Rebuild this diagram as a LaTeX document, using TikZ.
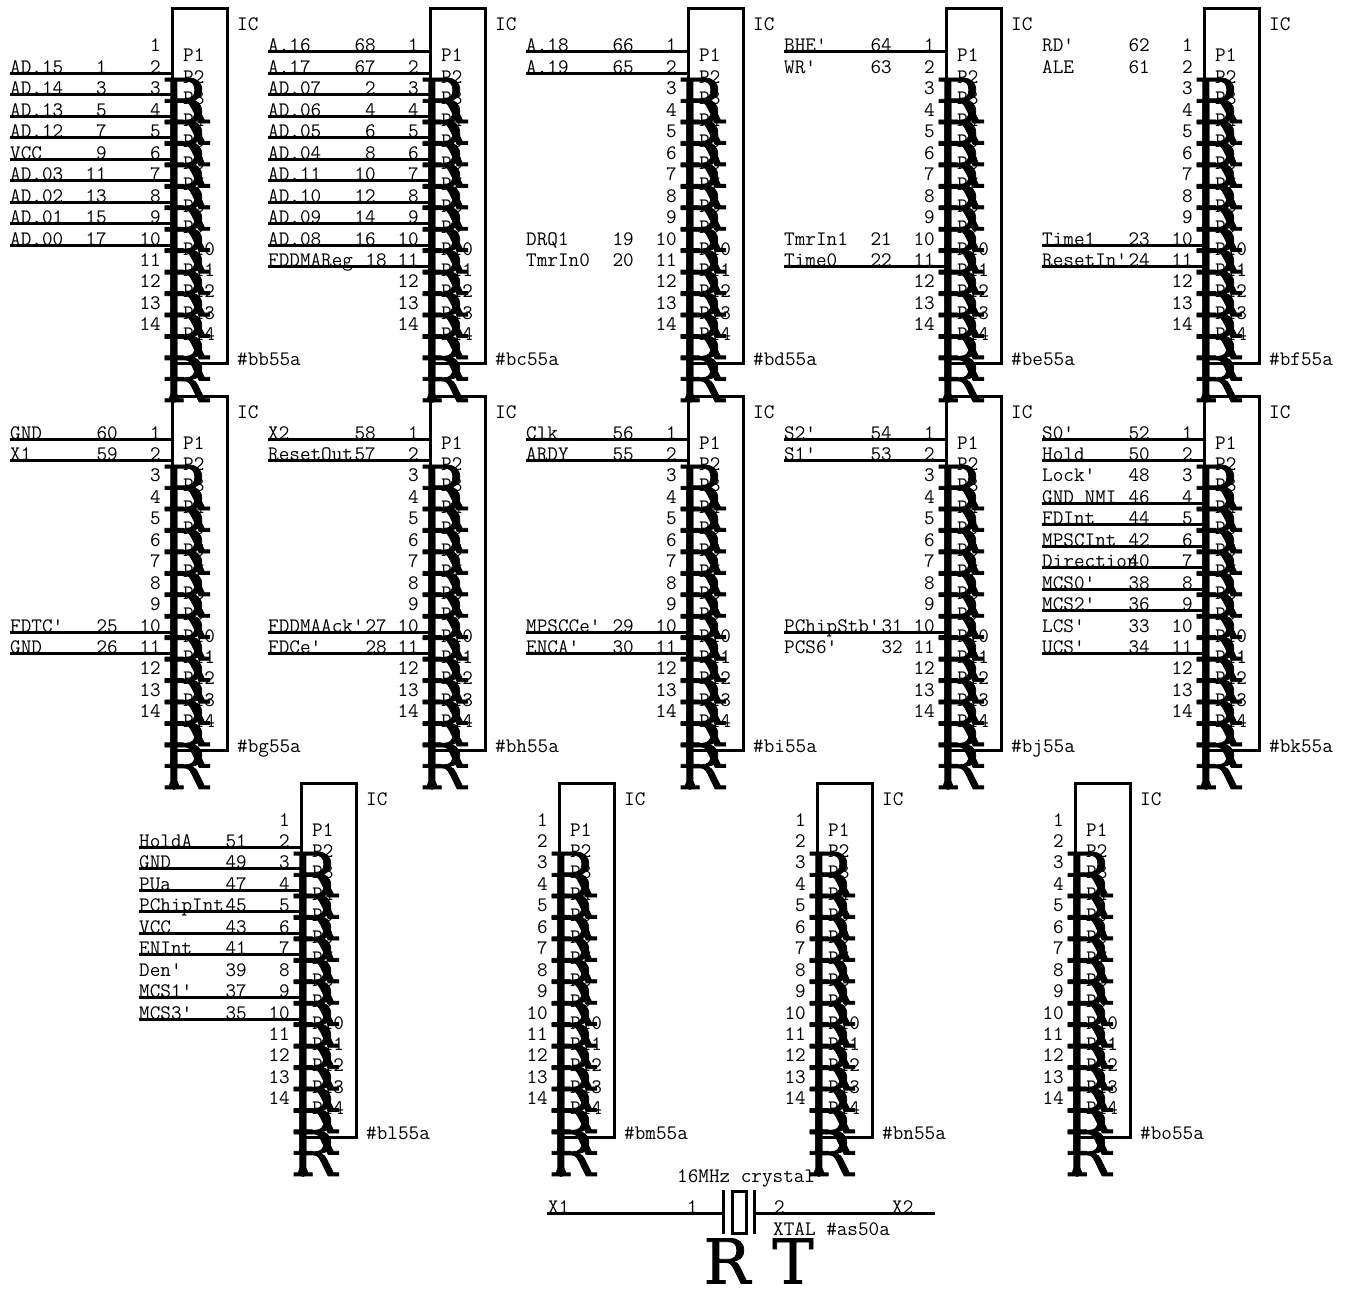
\documentclass[tikz,border=0pt]{standalone}
\usepackage{fontspec}
\newfontfamily\rfont[FakeBold=1.2]{DejaVu Serif}
\usetikzlibrary{calc, positioning}

\tikzset{
	lbl/.style={font=\fontsize{20.6}{22}\selectfont\ttfamily, inner sep=0pt},
	big/.style={font=\fontsize{62}{62}\selectfont\rfont, inner sep=0pt},
	wire/.style={line width=3pt},
	nowire/.style={draw=none},
	icbox/.style={line width=3pt}
}

% one IC: tag, left edge, top edge
\newcommand{\chip}[3]{
	\coordinate (#1) at (#2,#3);
	\draw[icbox] (#2,#3) rectangle (#2+55,#3+354);
	\node[lbl, anchor=base west] (#1-ic) at (#2+65,#3+22) {IC};
	\node[lbl, anchor=base west] (#1-ref) at (#2+65,#3+356) {\#{#1}55a};
	% Pin numbers and pin names
	\foreach \p in {1,...,14}
	{
		\node[lbl, anchor=base east] (#1-num\p) at (#2-11,{#3+43+21.45*(\p-1)}) {\p};
		\node[lbl, anchor=base west] (#1-P\p) at (#2+11,{#3+53+21.45*(\p-1)}) {P\p};
	}
	% Stacked pin glyphs
	\foreach \k in {0,...,13}
	{
		\node[big] (#1-R\k) at (#2+13,{#3+91.5+21.45*\k}) {R};
		\ifnum\k>1
			\fill (#2+1,{#3+110+21.45*\k}) circle (3pt);
		\fi
	}
	\fill (#2+2,{#3+110+21.45*13}) circle (5pt);
}

% signals of one IC: tag, left edge, top edge, pin/name/number/wire/column
\newcommand{\signals}[4]{
	\foreach \p/\s/\n/\w/\d in {#4}
	{
		\coordinate (#1-a\p) at (#2-162,{#3+43+21.45*(\p-1)});
		\coordinate (#1-b\p) at (#2,{#3+43+21.45*(\p-1)});
		\node[lbl, anchor=base west] (#1-s\p) at (#1-a\p) {\s};
		\node[lbl, anchor=base east] (#1-n\p) at ($(#1-a\p)+(\d,0)$) {\n};
		\draw[wire, \w] (#1-a\p) -- (#1-b\p);
	}
}

\begin{document}
\begin{tikzpicture}[x=1pt, y=-1pt]
	\useasboundingbox (0,0) rectangle (1351,1289);
	% First row
	\chip{bb}{172}{9}
	\chip{bc}{430}{9}
	\chip{bd}{688}{9}
	\chip{be}{946}{9}
	\chip{bf}{1204}{9}
	\signals{bb}{172}{9}{2/AD.15/1/wire/97, 3/AD.14/3/wire/97, 4/AD.13/5/wire/97, 5/AD.12/7/wire/97, 6/VCC/9/wire/97, 7/AD.03/11/wire/97, 8/AD.02/13/wire/97, 9/AD.01/15/wire/97, 10/AD.00/17/wire/97}
	\signals{bc}{430}{9}{1/A.16/68/wire/108, 2/A.17/67/wire/108, 3/AD.07/2/wire/108, 4/AD.06/4/wire/108, 5/AD.05/6/wire/108, 6/AD.04/8/wire/108, 7/AD.11/10/wire/108, 8/AD.10/12/wire/108, 9/AD.09/14/wire/108, 10/AD.08/16/wire/108, 11/FDDMAReg/18/wire/119}
	\signals{bd}{688}{9}{1/A.18/66/wire/108, 2/A.19/65/wire/108, 10/DRQ1/19/nowire/108, 11/TmrIn0/20/nowire/108}
	\signals{be}{946}{9}{1/BHE'/64/wire/108, 2/WR'/63/nowire/108, 10/TmrIn1/21/nowire/108, 11/Time0/22/wire/108}
	\signals{bf}{1204}{9}{1/RD'/62/nowire/108, 2/ALE/61/nowire/108, 10/Time1/23/wire/108, 11/ResetIn'/24/wire/108}
	% Second row
	\chip{bg}{172}{396}
	\chip{bh}{430}{396}
	\chip{bi}{688}{396}
	\chip{bj}{946}{396}
	\chip{bk}{1204}{396}
	\signals{bg}{172}{396}{1/GND/60/wire/108, 2/X1/59/wire/108, 10/FDTC'/25/wire/108, 11/GND/26/wire/108}
	\signals{bh}{430}{396}{1/X2/58/wire/108, 2/ResetOut/57/wire/108, 10/FDDMAAck'/27/wire/119, 11/FDCe'/28/wire/119}
	\signals{bi}{688}{396}{1/Clk/56/wire/108, 2/ARDY/55/wire/108, 10/MPSCCe'/29/wire/108, 11/ENCA'/30/wire/108}
	\signals{bj}{946}{396}{1/S2'/54/wire/108, 2/S1'/53/wire/108, 10/PChipStb'/31/wire/119, 11/PCS6'/32/nowire/119}
	\signals{bk}{1204}{396}{1/S0'/52/wire/108, 2/Hold/50/wire/108, 3/Lock'/48/nowire/108, 4/GND NMI/46/wire/108, 5/FDInt/44/wire/108, 6/MPSCInt/42/wire/108, 7/Direction/40/wire/108, 8/MCS0'/38/wire/108, 9/MCS2'/36/wire/108, 10/LCS'/33/nowire/108, 11/UCS'/34/wire/108}
	% Third row
	\chip{bl}{301}{783}
	\chip{bm}{559}{783}
	\chip{bn}{817}{783}
	\chip{bo}{1075}{783}
	\signals{bl}{301}{783}{2/HoldA/51/wire/108, 3/GND/49/wire/108, 4/PUa/47/wire/108, 5/PChipInt/45/wire/108, 6/VCC/43/wire/108, 7/ENInt/41/wire/108, 8/Den'/39/nowire/108, 9/MCS1'/37/wire/108, 10/MCS3'/35/wire/108}
	% Crystal
	\coordinate (xa) at (547,1213);
	\coordinate (xb) at (723,1213);
	\coordinate (xc) at (754,1213);
	\coordinate (xd) at (935,1213);
	\draw[wire] (xa) -- (xb);
	\draw[wire] (xc) -- (xd);
	\draw[wire] (723,1190) -- (723,1234);
	\draw[wire] (754,1190) -- (754,1234);
	\draw[icbox] (732,1191) rectangle (746,1233);
	\node[lbl, anchor=base west] (xname) at (677,1182) {16MHz crystal};
	\node[lbl, anchor=base west] (xl1) at (548,1213) {X1};
	\node[lbl, anchor=base west] (xp1) at (687,1213) {1};
	\node[lbl, anchor=base west] (xp2) at (774,1213) {2};
	\node[lbl, anchor=base west] (xl2) at (892,1213) {X2};
	\node[lbl, anchor=base west] (xref) at (773,1235) {XTAL \#as50a};
	\node[big] (xr) at (727,1261) {R};
	\node[big] (xt) at (793,1261) {T};
\end{tikzpicture}
\end{document}
